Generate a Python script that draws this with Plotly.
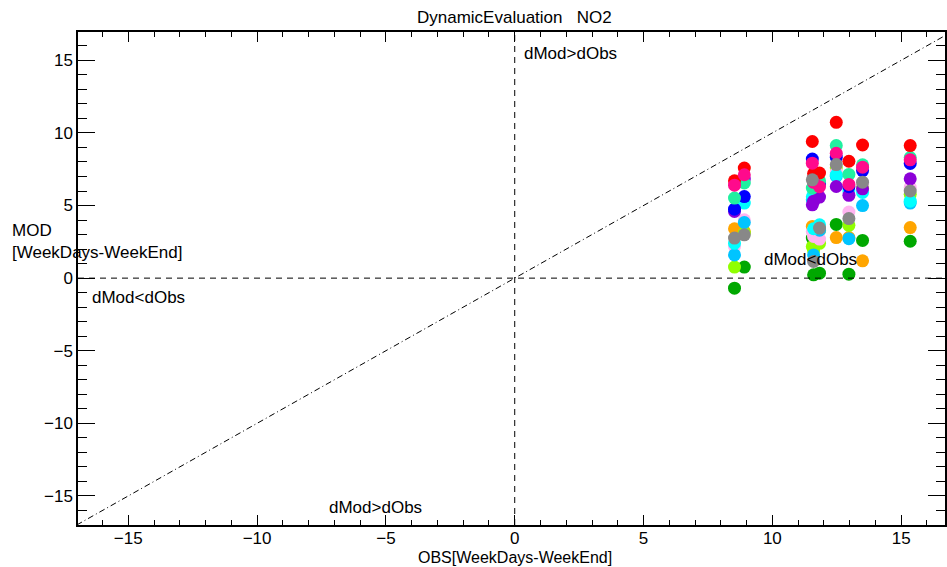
import plotly.graph_objects as go

# Observed differences (x) per station
obs_diff = [8.53, 8.91, 11.55, 11.6, 11.83, 12.48, 12.97, 13.5, 15.35]

# Modelled differences (y) per model, one value per station
mod_green = [-0.69, 0.76, 2.76, 0.23, 0.34, 3.7, 0.27, 2.6, 2.54]
mod_orange = [3.4, 3.21, 3.56, 3.0, 3.3, 2.79, 2.8, 1.19, 3.48]
mod_lawngreen = [0.76, 3.1, 2.18, 1.9, 2.4, 7.6, 3.64, 6.3, 5.77]
mod_lightpink = [2.18, 4.02, 3.2, 2.87, 2.69, 7.3, 4.55, 6.5, 6.25]
mod_deepskyblue = [1.6, 3.83, 5.4, 1.6, 3.3, 7.02, 2.72, 5.0, 5.17]
mod_cyan = [2.4, 5.17, 5.6, 3.4, 3.67, 7.1, 6.0, 5.9, 5.3]
mod_purple = [4.59, 6.82, 5.05, 5.3, 5.58, 6.31, 5.7, 6.15, 6.84]
mod_blue = [4.75, 5.62, 8.2, 6.9, 6.5, 8.33, 6.3, 7.41, 7.9]
mod_springgreen = [5.51, 6.55, 6.2, 6.5, 6.7, 9.13, 7.14, 7.8, 8.3]
mod_red = [6.7, 7.58, 9.41, 7.2, 7.24, 10.73, 8.05, 9.17, 9.13]
mod_deeppink = [6.4, 7.12, 7.92, 6.6, 6.3, 8.6, 6.45, 7.64, 8.15]
mod_gray = [2.76, 2.98, 6.77, 1.15, 3.45, 7.82, 4.1, 6.61, 6.0]

diag_vals = [-17, 17]
x_ticks = [-15, -10, -5, 0, 5, 10, 15]
y_ticks = [-15, -10, -5, 0, 5, 10, 15]

series = [
    (mod_green, "#00a800"),
    (mod_orange, "#ffa500"),
    (mod_lawngreen, "#90ff00"),
    (mod_lightpink, "#ffb4f0"),
    (mod_deepskyblue, "#00c4ff"),
    (mod_cyan, "#00ffff"),
    (mod_purple, "#8c00d8"),
    (mod_blue, "#0000ff"),
    (mod_springgreen, "#20f0a0"),
    (mod_red, "#ff0000"),
    (mod_deeppink, "#ff0a8c"),
    (mod_gray, "#888888"),
]

FONT = "Liberation Sans, Arial, sans-serif"

fig = go.Figure()

# 1:1 diagonal
fig.add_trace(go.Scatter(x=diag_vals, y=diag_vals, mode="lines",
                         line=dict(color="black", width=1, dash="6px,3px,1px,3px"),
                         hoverinfo="skip"))

fig.add_hline(y=0, line=dict(color="black", width=1, dash="6px,5px"))
fig.add_vline(x=0, line=dict(color="black", width=1, dash="6px,5px"))

for vals, col in series:
    fig.add_trace(go.Scatter(x=obs_diff, y=vals, mode="markers",
                             marker=dict(size=13, color=col, line=dict(width=0))))

axis_common = dict(showgrid=False, zeroline=False, showline=True, linecolor="black",
                   linewidth=1.5, mirror="ticks", ticks="inside", tickcolor="black",
                   tickwidth=1, tickfont=dict(family=FONT, size=17, color="black"))

fig.update_xaxes(range=[-16.95, 16.7], tickvals=x_ticks, ticklen=10,
                 ticklabelstandoff=-3,
                 minor=dict(dtick=1, ticks="inside", ticklen=5, tickcolor="black"),
                 **axis_common)
fig.update_yaxes(range=[-17, 16.95], tickvals=y_ticks, ticklen=17,
                 minor=dict(dtick=1, ticks="inside", ticklen=9, tickcolor="black"),
                 **axis_common)

txt = dict(family=FONT, size=17, color="black")
annotations = [
    dict(text="DynamicEvaluation   NO2", x=0, xref="x", y=1.03, yref="paper",
         xanchor="center", yanchor="middle", showarrow=False, font=txt),
    dict(text="dMod>dObs", x=0.3, xref="x", y=15.5, yref="y",
         xanchor="left", yanchor="middle", showarrow=False, font=txt),
    dict(text="dMod<dObs", x=-16.5, xref="x", y=-1.3, yref="y",
         xanchor="left", yanchor="middle", showarrow=False, font=txt),
    dict(text="dMod>dObs", x=-7.3, xref="x", y=-15.8, yref="y",
         xanchor="left", yanchor="middle", showarrow=False, font=txt),
    dict(text="dMod<dObs", x=9.6, xref="x", y=1.25, yref="y",
         xanchor="left", yanchor="middle", showarrow=False, font=txt),
    dict(text="MOD<br>[WeekDays-WeekEnd]", x=-0.078, xref="paper", y=2.5, yref="y",
         xanchor="left", yanchor="middle", align="left", showarrow=False, font=txt),
    dict(text="OBS[WeekDays-WeekEnd]", x=0, xref="x", y=-0.066, yref="paper",
         xanchor="center", yanchor="middle", showarrow=False,
         font=dict(family=FONT, size=16, color="black")),
]

fig.update_layout(width=947, height=567, margin=dict(l=78, r=0, t=32, b=42),
                  plot_bgcolor="white", paper_bgcolor="white", showlegend=False,
                  font=dict(family=FONT, size=17, color="black"),
                  annotations=annotations)

fig.write_html("out.html")
